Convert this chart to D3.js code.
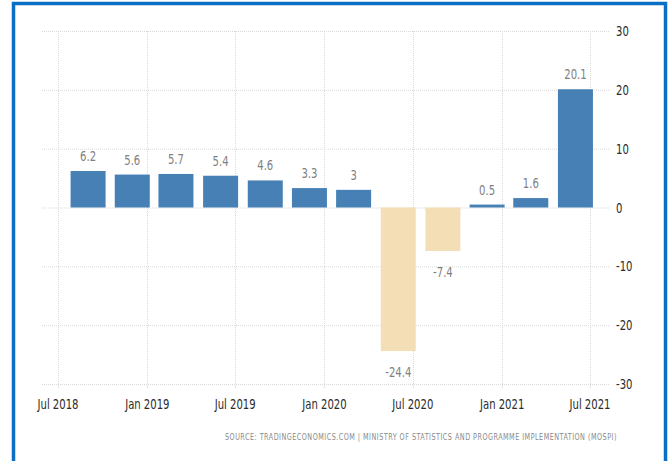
<!DOCTYPE html>
<html>
<head>
<meta charset="utf-8">
<script src="https://cdn.jsdelivr.net/npm/d3@7"></script>
<style>
  html, body { margin: 0; padding: 0; background: #ffffff; }
  svg { display: block; }
  .lbl { font-family: "DejaVu Sans Condensed", "DejaVu Sans", sans-serif; }
</style>
</head>
<body>
<svg id="chart" width="671" height="461"></svg>
<script>
// Quarterly GDP growth, plotted at the last month of each quarter
const quarters = ["2018-09", "2018-12", "2019-03", "2019-06", "2019-09", "2019-12",
                  "2020-03", "2020-06", "2020-09", "2020-12", "2021-03", "2021-06"];
const values = [6.2, 5.6, 5.7, 5.4, 4.6, 3.3, 3, -24.4, -7.4, 0.5, 1.6, 20.1];
const valueLabels = ["6.2", "5.6", "5.7", "5.4", "4.6", "3.3", "3", "-24.4", "-7.4", "0.5", "1.6", "20.1"];

// Axis ticks
const xTickDates = ["2018-07", "2019-01", "2019-07", "2020-01", "2020-07", "2021-01", "2021-07"];
const xTickLabels = ["Jul 2018", "Jan 2019", "Jul 2019", "Jan 2020", "Jul 2020", "Jan 2021", "Jul 2021"];
const yTicks = [-30, -20, -10, 0, 10, 20, 30];

const sourceText = "SOURCE: TRADINGECONOMICS.COM | MINISTRY OF STATISTICS AND PROGRAMME IMPLEMENTATION (MOSPI)";

const parseMonth = d3.timeParse("%Y-%m");
const squeeze = 0.8; // narrow lettering

const svg = d3.select("#chart");

// Frame
svg.append("rect")
  .attr("x", 13.5).attr("y", 3.5)
  .attr("width", 652).attr("height", 480)
  .attr("fill", "#ffffff")
  .attr("stroke", "#0A6FC4")
  .attr("stroke-width", 3.5);

const plot = { left: 42, right: 610, top: 31, bottom: 384 };

const x = d3.scaleTime()
  .domain([parseMonth("2018-07"), parseMonth("2021-07")])
  .range([58, 590]);

const y = d3.scaleLinear()
  .domain([-30, 30])
  .range([plot.bottom, plot.top]);

const barWidth = 35;

// Horizontal grid lines
svg.append("g")
  .selectAll("line")
  .data(yTicks)
  .join("line")
  .attr("x1", plot.left).attr("x2", plot.right)
  .attr("y1", d => y(d) + 0.5).attr("y2", d => y(d) + 0.5)
  .attr("stroke", "#d9d9d9")
  .attr("stroke-dasharray", "1,1");

// Vertical grid lines
svg.append("g")
  .selectAll("line")
  .data(xTickDates)
  .join("line")
  .attr("x1", d => Math.round(x(parseMonth(d))) + 0.5)
  .attr("x2", d => Math.round(x(parseMonth(d))) + 0.5)
  .attr("y1", plot.top).attr("y2", plot.bottom + 5)
  .attr("stroke", "#d9d9d9")
  .attr("stroke-dasharray", "1,1");

// Bars
const data = quarters.map((q, i) => ({ date: parseMonth(q), value: values[i], label: valueLabels[i] }));

svg.append("g")
  .selectAll("rect")
  .data(data)
  .join("rect")
  .attr("x", d => x(d.date) - barWidth / 2)
  .attr("width", barWidth)
  .attr("y", d => y(Math.max(0, d.value)))
  .attr("height", d => Math.abs(y(d.value) - y(0)))
  .attr("fill", d => d.value >= 0 ? "#4680B4" : "#F4DEB5");

// Value labels
svg.append("g")
  .selectAll("text")
  .data(data)
  .join("text")
  .attr("class", "lbl")
  .attr("transform", d => `translate(${x(d.date)},${d.value >= 0 ? y(d.value) - 10 : y(d.value) + 26}) scale(${squeeze},1)`)
  .attr("text-anchor", "middle")
  .attr("font-size", 14)
  .attr("fill", "#7f7f7f")
  .text(d => d.label);

// Y axis labels on the right
svg.append("g")
  .selectAll("text")
  .data(yTicks)
  .join("text")
  .attr("class", "lbl")
  .attr("transform", d => `translate(616,${y(d) + 5}) scale(${squeeze},1)`)
  .attr("font-size", 14)
  .attr("fill", "#2b2b2b")
  .text(d => d);

// X axis labels
svg.append("g")
  .selectAll("text")
  .data(xTickDates)
  .join("text")
  .attr("class", "lbl")
  .attr("transform", d => `translate(${x(parseMonth(d))},409) scale(${squeeze},1)`)
  .attr("text-anchor", "middle")
  .attr("font-size", 14)
  .attr("fill", "#2b2b2b")
  .text((d, i) => xTickLabels[i]);

// Source line, fitted to a fixed width under the plot
const src = svg.append("text")
  .attr("class", "lbl")
  .attr("font-size", 9)
  .attr("fill", "#8a8a8a")
  .attr("letter-spacing", 0.6)
  .text(sourceText);
const natural = src.node().getComputedTextLength();
const fit = Math.min(1, 393 / natural);
src.attr("transform", `translate(225,440) scale(${fit.toFixed(3)},1)`);
</script>
</body>
</html>
